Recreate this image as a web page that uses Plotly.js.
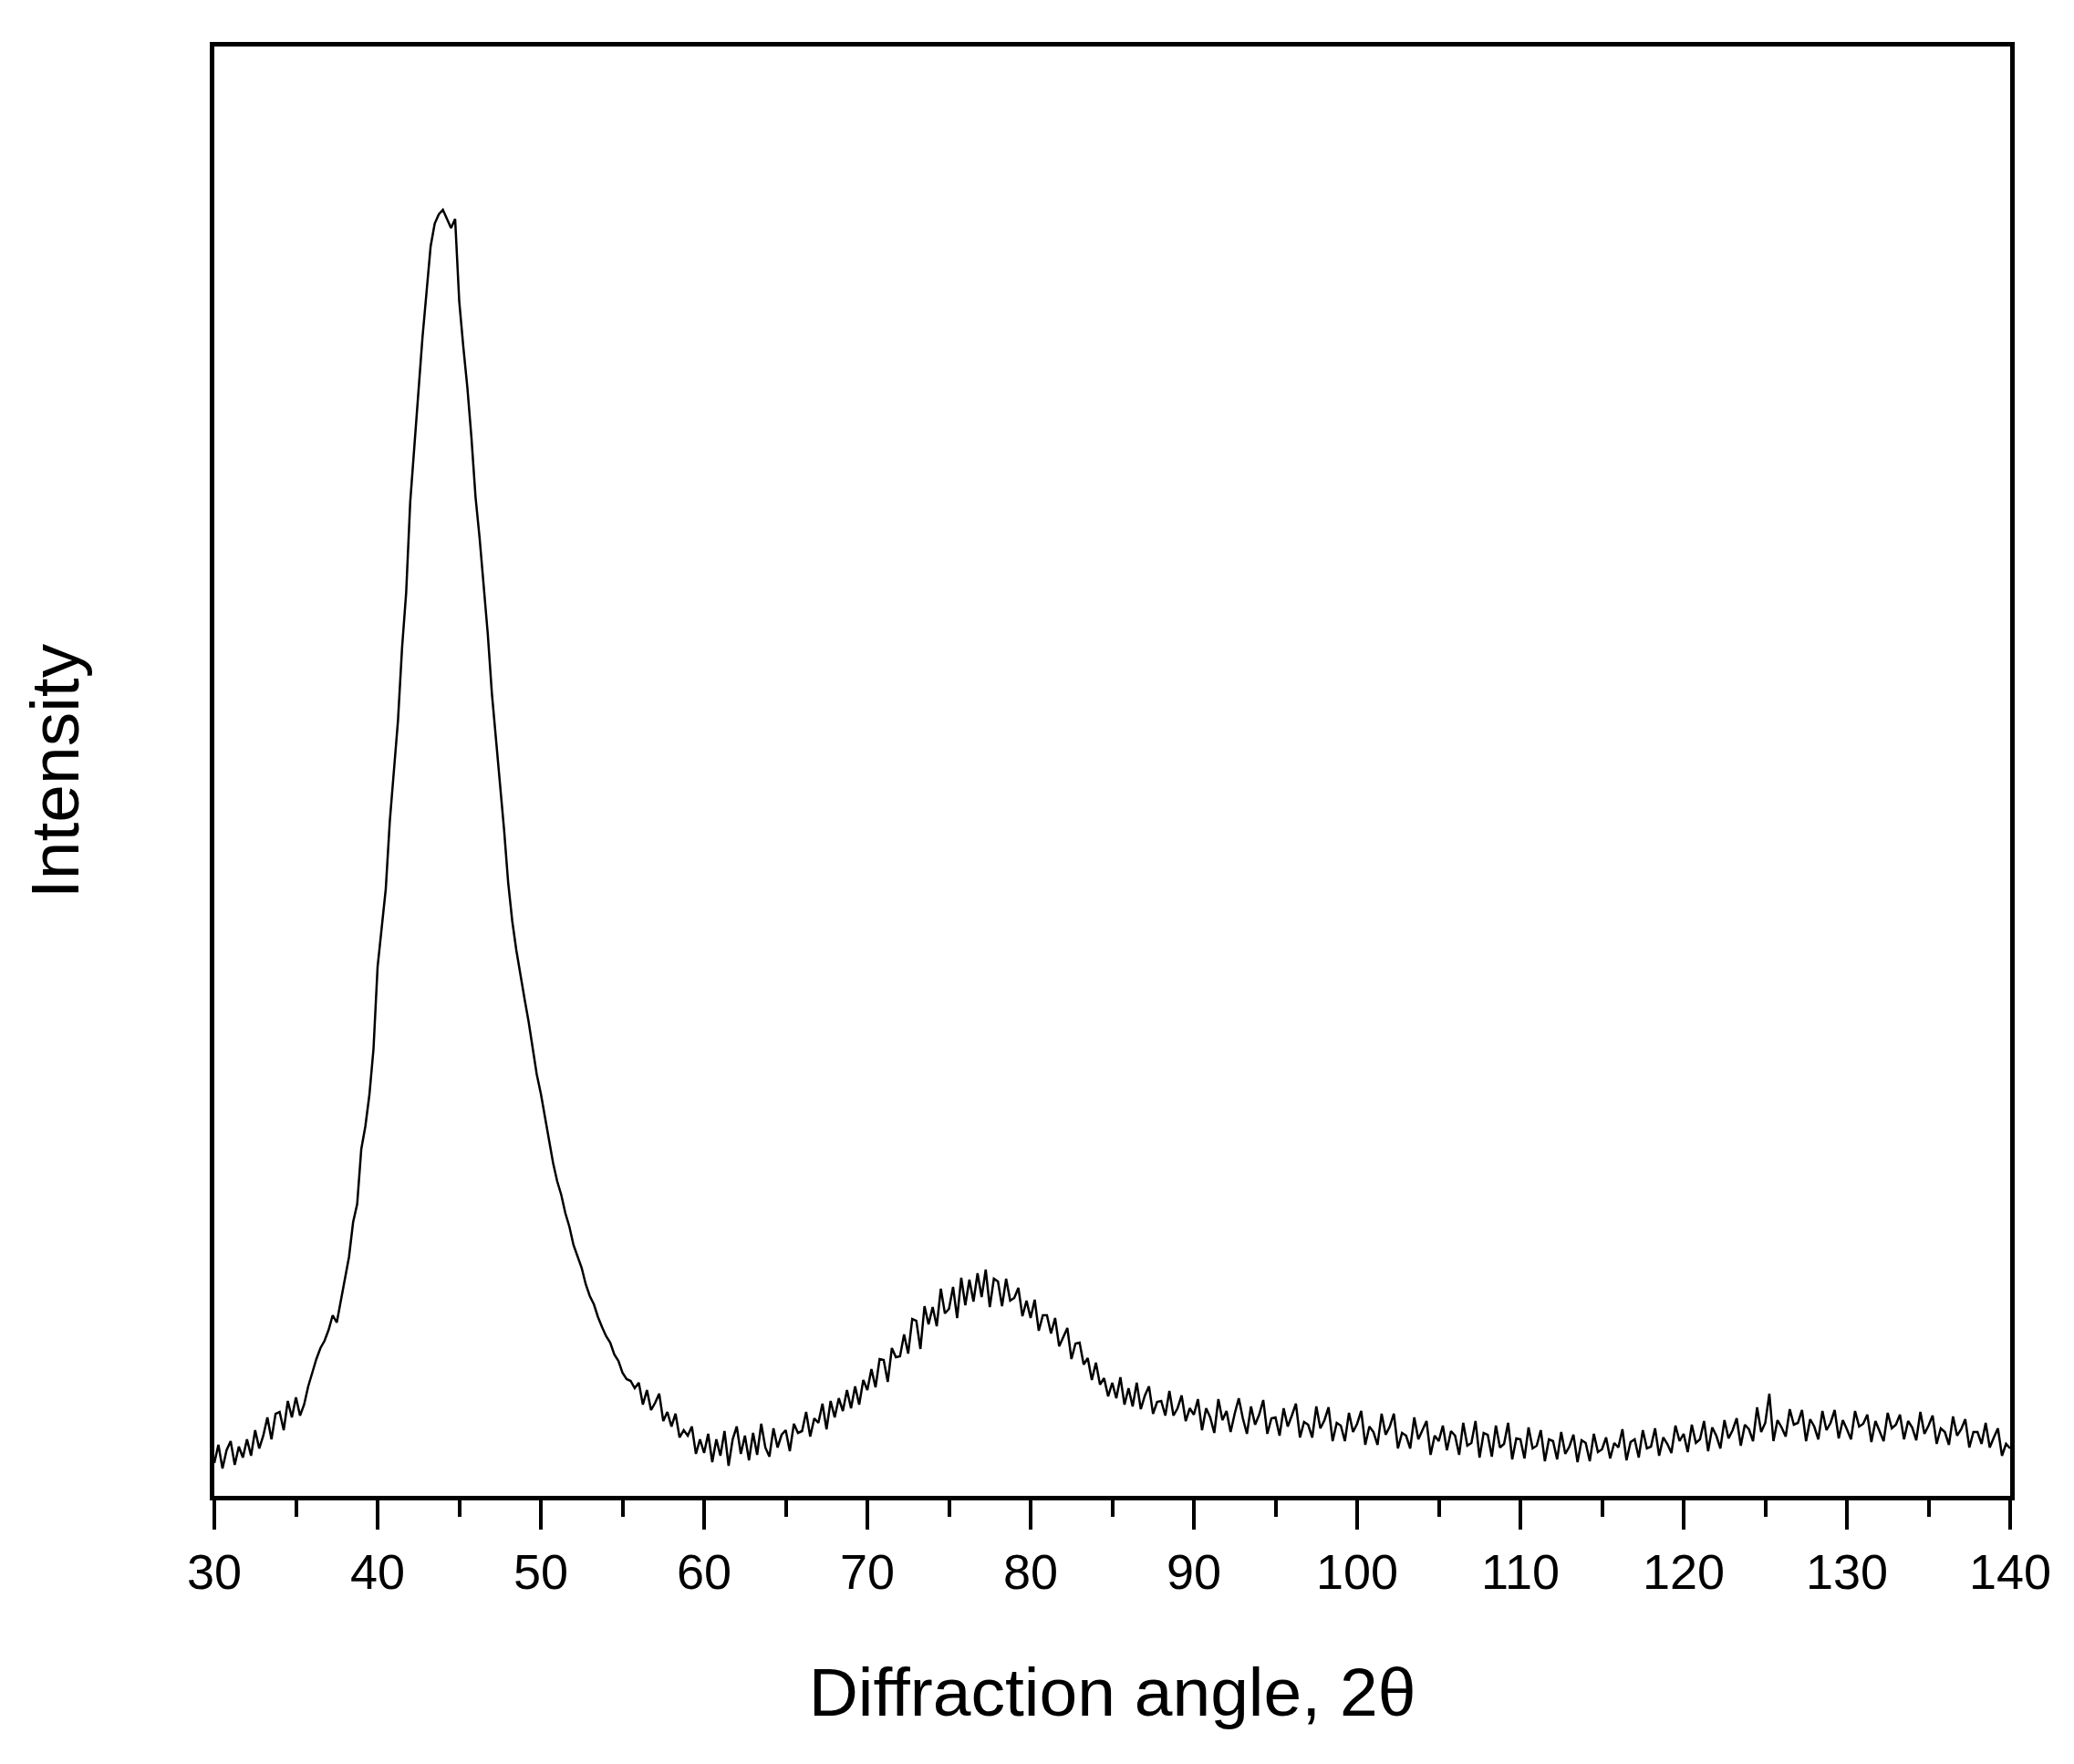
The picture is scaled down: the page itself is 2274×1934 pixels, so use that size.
<!DOCTYPE html>
<html>
<head>
<meta charset="utf-8">
<script src="https://cdn.plot.ly/plotly-3.0.1.min.js"></script>
<style>
    html, body { margin: 0; padding: 0; background: #ffffff; }
    #xrd { width: 2274px; height: 1934px; }
</style>
</head>
<body>
<div id="xrd"></div>
<script>
// scan settings (2theta start, step)
const scanStart = 30
const scanStep = 0.25

// intensity, one row per degree (x.00, x.25, x.50, x.75)
const intensity = [
    36, 56, 30, 50,
    60, 34, 54, 42,
    62, 44, 72, 52,
    66, 86, 62, 90,
    92, 72, 104, 86,
    108, 88, 100, 120,
    135, 150, 162, 170,
    182, 198, 190, 215,
    240, 262, 300, 320,
    380, 405, 440, 490,
    580, 620, 665, 740,
    800, 850, 930, 990,
    1090, 1150, 1210, 1270,
    1320, 1370, 1395, 1405,
    1410, 1400, 1390, 1400,
    1310, 1260, 1215, 1160,
    1095, 1050, 1000, 945,
    880, 830, 785, 730,
    672, 630, 598, 570,
    545, 520, 490, 462,
    441, 415, 390, 365,
    345, 330, 310, 295,
    275, 262, 250, 232,
    219, 210, 196, 185,
    175, 168, 155, 148,
    135, 128, 126, 118,
    124, 100, 116, 94,
    102, 112, 82, 92,
    76, 90, 64, 72,
    66, 76, 46, 62,
    47, 68, 37, 62,
    44, 71, 33, 62,
    76, 46, 66, 39,
    69, 45, 79, 53,
    43, 74, 53, 67,
    72, 49, 79, 69,
    71, 92, 65, 85,
    80, 101, 73, 104,
    86, 107, 93, 116,
    96, 120, 100, 127,
    116, 139, 119, 150,
    149, 125, 162, 152,
    153, 177, 156, 194,
    192, 161, 208, 188,
    207, 186, 227, 200,
    205, 229, 195, 239,
    209, 237, 213, 244,
    218, 248, 207, 238,
    235, 208, 238, 214,
    217, 228, 197, 214,
    195, 215, 181, 198,
    198, 178, 195, 164,
    174, 184, 150, 167,
    168, 144, 151, 127,
    146, 122, 129, 109,
    124, 107, 130, 100,
    118, 98, 124, 95,
    110, 120, 90, 103,
    104, 88, 115, 88,
    96, 110, 82, 96,
    89, 106, 72, 96,
    86, 69, 106, 83,
    93, 70, 90, 107,
    85, 68, 98, 78,
    89, 105, 68, 85,
    86, 66, 96, 76,
    88, 101, 64, 81,
    78, 64, 98, 74,
    83, 97, 60, 80,
    77, 60, 91, 70,
    79, 93, 56, 76,
    70, 56, 90, 67,
    76, 90, 52, 69,
    66, 52, 86, 62,
    72, 82, 45, 66,
    60, 77, 50, 71,
    66, 45, 80, 55,
    58, 82, 42, 69,
    67, 43, 77, 53,
    57, 80, 40, 63,
    62, 41, 75, 52,
    55, 72, 38, 62,
    60, 40, 70, 46,
    54, 67, 37, 61,
    58, 38, 68, 48,
    51, 64, 41, 58,
    53, 73, 39, 59,
    62, 42, 72, 52,
    54, 74, 44, 64,
    57, 47, 77, 60,
    68, 48, 78, 58,
    62, 82, 49, 75,
    66, 52, 83, 63,
    72, 85, 55, 78,
    73, 60, 97, 70,
    80, 112, 60, 83,
    75, 65, 95, 78,
    80, 94, 60, 84,
    76, 62, 93, 72,
    80, 94, 63, 83,
    73, 62, 93, 76,
    79, 89, 59, 82,
    71, 60, 91, 74,
    78, 89, 62, 82,
    75, 61, 92, 68,
    77, 88, 57, 74,
    70, 56, 87, 66,
    73, 84, 53, 70,
    70, 57, 80, 53,
    64, 74, 44, 57,
    52
]

const xTicks = [30, 40, 50, 60, 70, 80, 90, 100, 110, 120, 130, 140]

function plotXrd() {
    const chart = document.getElementById('xrd')
    const twoTheta = intensity.map((_, i) => scanStart + i * scanStep)

    const trace = {
        x: twoTheta,
        y: intensity,
        mode: 'lines',
        line: { color: '#000000', width: 2.5 },
        hoverinfo: 'skip'
    }

    const layout = {
        width: 2274,
        height: 1934,
        font: { family: 'Liberation Sans, Arial, sans-serif', color: '#000000' },
        xaxis: {
            title: {
                text: 'Diffraction angle, 2θ',
                font: { size: 75 },
                standoff: 78
            },
            range: [30, 140],
            tickvals: xTicks,
            ticks: 'outside',
            ticklen: 32,
            tickwidth: 4,
            tickcolor: '#000000',
            tickfont: { size: 54 },
            minor: { dtick: 5, ticks: 'outside', ticklen: 18, tickwidth: 4, tickcolor: '#000000' },
            showline: true,
            linewidth: 5,
            linecolor: '#000000',
            mirror: true,
            showgrid: false,
            zeroline: false
        },
        yaxis: {
            title: {
                text: 'Intensity',
                font: { size: 75 },
                standoff: 120
            },
            range: [0, 1589],
            showticklabels: false,
            ticks: '',
            showline: true,
            linewidth: 5,
            linecolor: '#000000',
            mirror: true,
            showgrid: false,
            zeroline: false
        },
        margin: { l: 235, r: 70, t: 51, b: 294 },
        paper_bgcolor: '#ffffff',
        plot_bgcolor: '#ffffff',
        showlegend: false
    }

    Plotly.newPlot(chart, [trace], layout, { staticPlot: true })
}

plotXrd()
</script>
</body>
</html>
